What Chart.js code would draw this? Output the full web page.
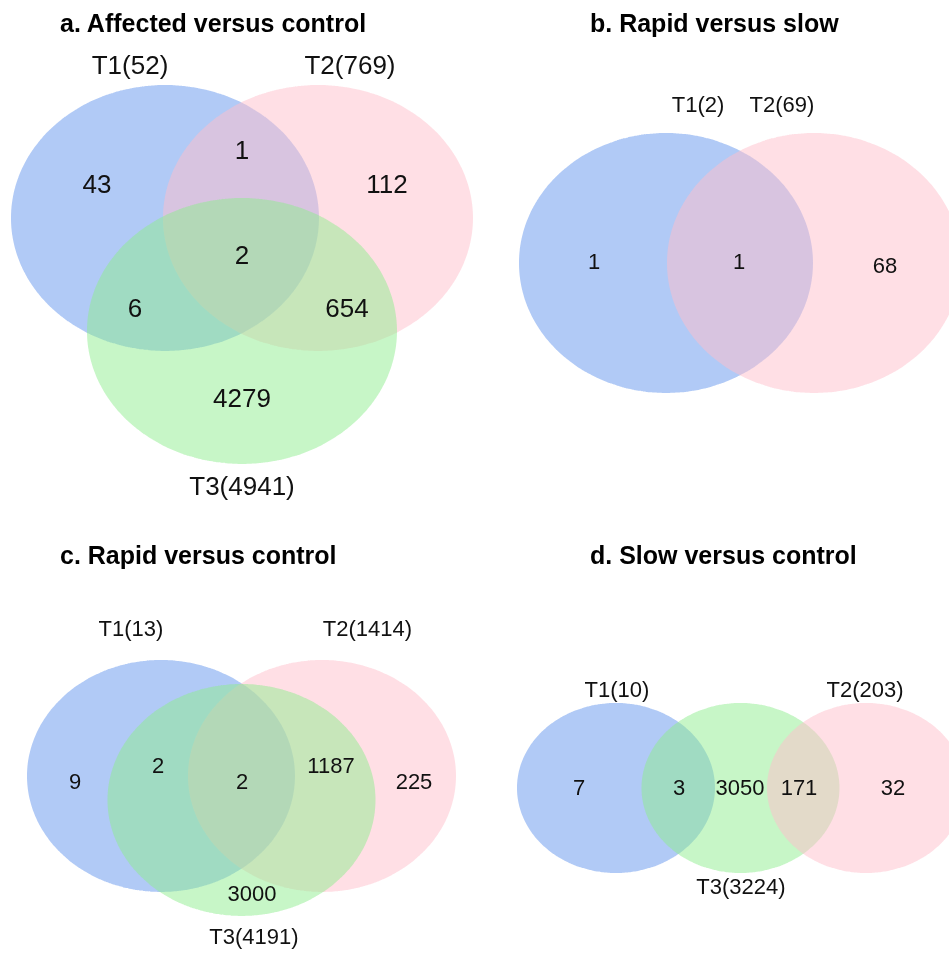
<!DOCTYPE html>
<html>
<head>
<meta charset="utf-8">
<title>Venn diagrams</title>
<script src="https://cdn.jsdelivr.net/npm/chart.js@4.4.1/dist/chart.umd.min.js"></script>
<style>
  html, body { margin: 0; padding: 0; background: #fff; }
  #grid { position: relative; width: 949px; height: 955px; overflow: hidden; }
  .panel { position: absolute; }
  .panel canvas { position: absolute; left: 0; top: 0; }
  .title {
    position: absolute;
    font: bold 25px "Liberation Sans", Arial, sans-serif;
    line-height: 30px;
    white-space: nowrap;
    color: #000;
  }
</style>
</head>
<body>
<div id="grid">
  <div class="panel" style="left:0;top:0;width:475px;height:530px">
    <canvas id="chartA" width="475" height="530"></canvas>
    <div class="title" id="titleA" style="left:60px;top:8px"></div>
  </div>
  <div class="panel" style="left:475px;top:0;width:474px;height:530px">
    <canvas id="chartB" width="474" height="530"></canvas>
    <div class="title" id="titleB" style="left:115px;top:8px"></div>
  </div>
  <div class="panel" style="left:0;top:530px;width:475px;height:425px">
    <canvas id="chartC" width="475" height="425"></canvas>
    <div class="title" id="titleC" style="left:60px;top:10px"></div>
  </div>
  <div class="panel" style="left:475px;top:530px;width:474px;height:425px">
    <canvas id="chartD" width="474" height="425"></canvas>
    <div class="title" id="titleD" style="left:115px;top:10px"></div>
  </div>
</div>

<script>
// --- DATA ---
// a. Affected versus control
const titleA = 'a. Affected versus control';
const setsA = ['T1', 'T2', 'T3'];
const totalsA = [52, 769, 4941];
const countsA = [43, 1, 112, 2, 6, 654, 4279]; // T1, T1∩T2, T2, all, T1∩T3, T2∩T3, T3

// b. Rapid versus slow
const titleB = 'b. Rapid versus slow';
const setsB = ['T1', 'T2'];
const totalsB = [2, 69];
const countsB = [1, 1, 68]; // T1, T1∩T2, T2

// c. Rapid versus control
const titleC = 'c. Rapid versus control';
const setsC = ['T1', 'T2', 'T3'];
const totalsC = [13, 1414, 4191];
const countsC = [9, 2, 2, 1187, 225, 3000]; // T1, T1∩T3, all, T2∩T3, T2, T3

// d. Slow versus control
const titleD = 'd. Slow versus control';
const setsD = ['T1', 'T3', 'T2'];
const totalsD = [10, 3224, 203];
const countsD = [7, 3, 3050, 171, 32]; // T1, T1∩T3, T3, T2∩T3, T2

// --- LAYOUT (units = panel pixels) ---
const setColors = {
    T1: 'rgba(100, 149, 237, 0.5)',
    T2: 'rgba(255, 192, 203, 0.5)',
    T3: 'rgba(144, 238, 144, 0.5)'
};

const shapesA = [
    { cx: 165, cy: 218, rx: 154, ry: 133 },
    { cx: 318, cy: 218, rx: 155, ry: 133 },
    { cx: 242, cy: 331, rx: 155, ry: 133 }
];
const setLabelPosA = [[130, 67], [350, 67], [242, 488]];
const countPosA = [[97, 186], [242, 152], [387, 186], [242, 257], [135, 310], [347, 310], [242, 400]];

const shapesB = [
    { cx: 191, cy: 263, rx: 147, ry: 130 },
    { cx: 339, cy: 263, rx: 147, ry: 130 }
];
const setLabelPosB = [[223, 106], [307, 106]];
const countPosB = [[119, 263], [264, 263], [410, 267]];

const shapesC = [
    { cx: 161, cy: 246, rx: 134, ry: 116 },
    { cx: 322, cy: 246, rx: 134, ry: 116 },
    { cx: 241.5, cy: 270, rx: 134, ry: 116 }
];
const setLabelPosC = [[131, 100], [367.5, 100], [254, 408]];
const countPosC = [[75, 253], [158, 237], [242, 253], [331, 237], [414, 253], [252, 365]];

const shapesD = [
    { cx: 141, cy: 258, rx: 99, ry: 85 },
    { cx: 265.5, cy: 258, rx: 99, ry: 85 },
    { cx: 391, cy: 258, rx: 99, ry: 85 }
];
const setLabelPosD = [[142, 161], [266, 358], [390, 161]];
const countPosD = [[104, 259], [204, 259], [265, 259], [324, 259], [418, 259]];

// --- PLUGIN: texts placed through the chart scales ---
const vennText = {
    id: 'vennText',
    afterDatasetsDraw(chart, args, opts) {
        const { ctx, scales: { x, y } } = chart;
        ctx.save();
        ctx.fillStyle = '#111';
        ctx.textAlign = 'center';
        ctx.textBaseline = 'middle';
        ctx.font = opts.fontSize + 'px "Liberation Sans", Arial, sans-serif';
        opts.items.forEach(it => {
            ctx.fillText(it.text, x.getPixelForValue(it.x), y.getPixelForValue(it.y));
        });
        ctx.restore();
    }
};

function outline(e) {
    const pts = [];
    const n = 240;
    for (let i = 0; i <= n; i++) {
        const t = i / n * Math.PI * 2;
        pts.push({ x: e.cx + e.rx * Math.cos(t), y: e.cy + e.ry * Math.sin(t) });
    }
    return pts;
}

function drawVenn(canvasId, titleId, title, sets, totals, counts, shapes, labelPos, countPos, fontSize) {
    document.getElementById(titleId).textContent = title;
    const canvas = document.getElementById(canvasId);

    const items = [];
    sets.forEach((s, i) => items.push({ text: `${s}(${totals[i]})`, x: labelPos[i][0], y: labelPos[i][1] }));
    counts.forEach((c, i) => items.push({ text: String(c), x: countPos[i][0], y: countPos[i][1] }));

    new Chart(canvas.getContext('2d'), {
        type: 'line',
        data: {
            datasets: sets.map((s, i) => ({
                label: s,
                data: outline(shapes[i]),
                backgroundColor: setColors[s],
                borderColor: 'transparent',
                borderWidth: 0,
                pointRadius: 0,
                tension: 0.0001, // non-zero: avoids the fast path that flattens the ellipse sides
                fill: 'shape',
                clip: false,
                order: sets.length - i // first set painted first, later ones on top
            }))
        },
        options: {
            responsive: false,
            animation: false,
            events: [],
            layout: { padding: 0 },
            scales: {
                x: { type: 'linear', min: 0, max: canvas.width, display: false },
                y: { type: 'linear', min: 0, max: canvas.height, reverse: true, display: false }
            },
            plugins: {
                legend: { display: false },
                tooltip: { enabled: false },
                title: { display: false },
                vennText: { items: items, fontSize: fontSize }
            }
        },
        plugins: [vennText]
    });
}

drawVenn('chartA', 'titleA', titleA, setsA, totalsA, countsA, shapesA, setLabelPosA, countPosA, 26);
drawVenn('chartB', 'titleB', titleB, setsB, totalsB, countsB, shapesB, setLabelPosB, countPosB, 22);
drawVenn('chartC', 'titleC', titleC, setsC, totalsC, countsC, shapesC, setLabelPosC, countPosC, 22);
drawVenn('chartD', 'titleD', titleD, setsD, totalsD, countsD, shapesD, setLabelPosD, countPosD, 22);
</script>
</body>
</html>
